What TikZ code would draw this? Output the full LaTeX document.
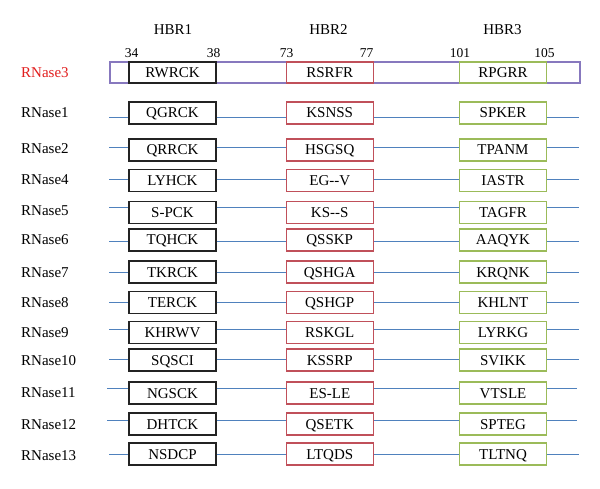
\documentclass[tikz,border=0pt]{standalone}
\usepackage{fontspec}
\setmainfont{Liberation Serif}
\definecolor{boxblack}{RGB}{35,35,35}
\definecolor{boxred}{RGB}{192,80,90}
\definecolor{boxgreen}{RGB}{155,187,89}
\definecolor{lineblue}{RGB}{79,129,189}
\definecolor{outerpurple}{RGB}{135,120,190}
\definecolor{labred}{RGB}{225,30,30}
\begin{document}
\begin{tikzpicture}[x=1pt,y=-1pt,
  seqbox/.style={draw, line width=1.1pt, minimum width=87pt, minimum height=22pt,
    inner sep=0pt, text height=10pt, text depth=0pt, fill=white,
    font=\fontsize{15}{18}\selectfont},
  boxA/.style={seqbox, draw=boxblack},
  boxB/.style={seqbox, draw=boxred},
  boxC/.style={seqbox, draw=boxgreen},
  link/.style={draw=lineblue, line width=0.9pt},
  lab/.style={anchor=base west, inner sep=0pt, font=\fontsize{15}{18}\selectfont},
  head/.style={anchor=base, inner sep=0pt, font=\fontsize{15}{18}\selectfont},
  num/.style={anchor=base, inner sep=0pt, font=\fontsize{13.5}{16}\selectfont}]
\useasboundingbox (0,0) rectangle (600,489);
% headers
\node[head] (h1) at (173,35) {HBR1};
\node[head] (h2) at (328.5,35) {HBR2};
\node[head] (h3) at (502.5,35) {HBR3};
\node[num] (p34) at (131.5,58) {34};
\node[num] (p38) at (213.5,58) {38};
\node[num] (p73) at (286.5,58) {73};
\node[num] (p77) at (366.5,58) {77};
\node[num] (p101) at (460,58) {101};
\node[num] (p105) at (544.5,58) {105};
% RNase3
\node[lab, text=labred] (n3) at (21,77.5) {RNase3};
\node[draw=outerpurple, line width=1.1pt, minimum width=470pt, minimum height=21pt, inner sep=0pt] (r3) at (345,72.5) {};
\node[boxA, minimum height=21pt] (a3) at (172.5,72.5) {RWRCK};
\node[boxB, minimum height=21pt] (b3) at (329.75,72.5) {RSRFR};
\node[boxC, minimum height=21pt] (c3) at (503,72.5) {RPGRR};
% other rows
\foreach \i/\ly/\by/\lny/\xs/\xe/\ta/\tb/\tc in {
  1/113/113/117/109/579/QGRCK/KSNSS/SPKER,
  2/149/150/147/109/579/QRRCK/HSGSQ/TPANM,
  4/180/180.5/179/109/579/LYHCK/EG{-}{-}V/IASTR,
  5/211/212.5/207/109/579/S-PCK/KS{-}{-}S/TAGFR,
  6/240/240/241/109/579/TQHCK/QSSKP/AAQYK,
  7/272/272/272/109/579/TKRCK/QSHGA/KRQNK,
  8/302/302.5/302/109/579/TERCK/QSHGP/KHLNT,
  9/332/332.5/329/109/579/KHRWV/RSKGL/LYRKG,
  10/360/360/359/109/579/SQSCI/KSSRP/SVIKK,
  11/392/393/388/107/577/NGSCK/ES-LE/VTSLE,
  12/424/424/420/107/577/DHTCK/QSETK/SPTEG,
  13/455/454/454/109/579/NSDCP/LTQDS/TLTNQ}{
  \node[lab] (n\i) at (21,\ly+5) {RNase\i};
  \node[boxA] (a\i) at (172.5,\by) {\ta};
  \node[boxB] (b\i) at (329.75,\by) {\tb};
  \node[boxC] (c\i) at (503,\by) {\tc};
  \coordinate (s\i) at (\xs,\lny);
  \coordinate (e\i) at (\xe,\lny);
  \draw[link] (s\i) -- (s\i -| a\i.west)
              (s\i -| a\i.east) -- (s\i -| b\i.west)
              (s\i -| b\i.east) -- (s\i -| c\i.west)
              (s\i -| c\i.east) -- (e\i);
}
\end{tikzpicture}
\end{document}
